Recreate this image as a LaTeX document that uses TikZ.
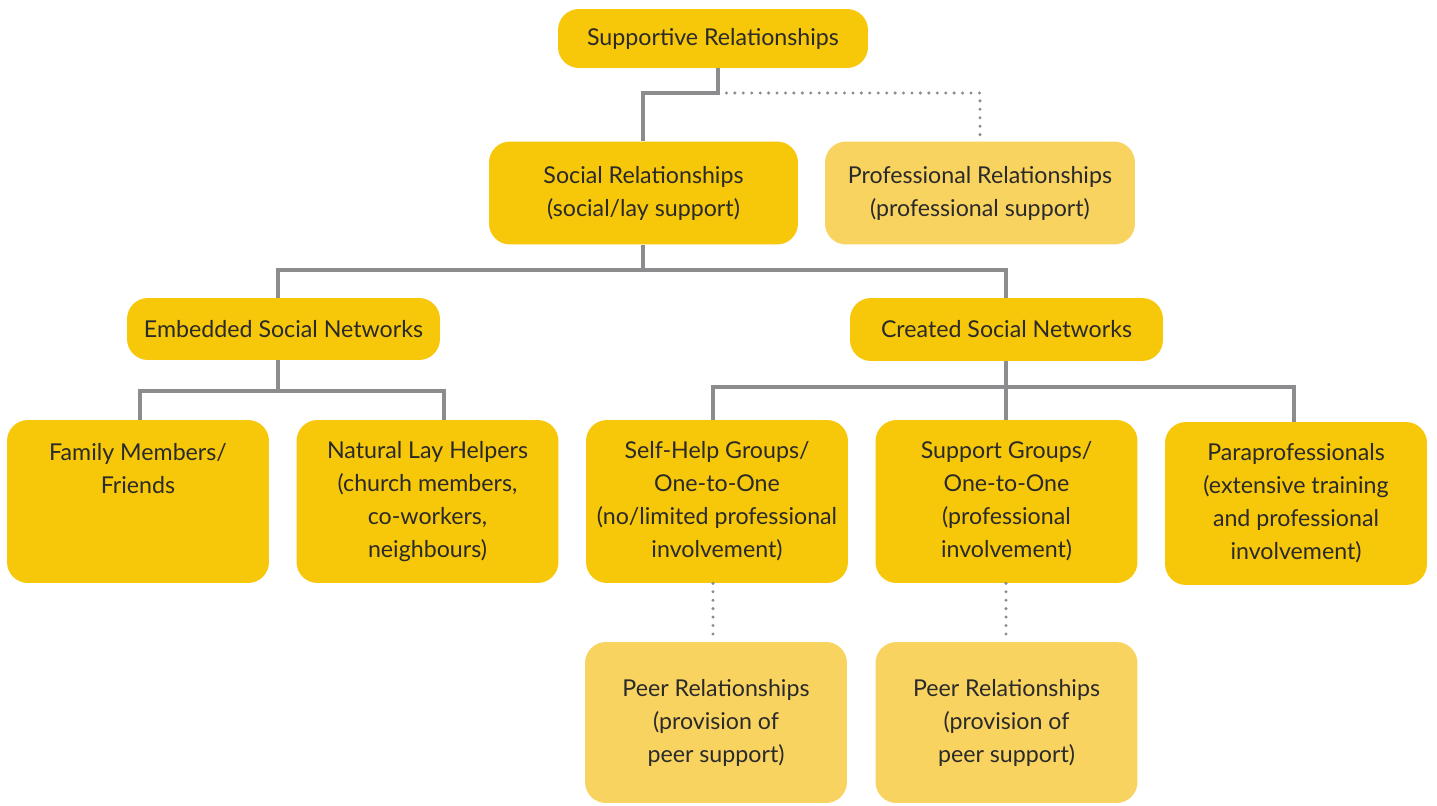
\documentclass[tikz,border=0pt]{standalone}
\usepackage{fontspec}
\setmainfont{Lato}
\usetikzlibrary{positioning}
\definecolor{boxyellow}{HTML}{F7C709}
\definecolor{paleyellow}{HTML}{F9D35F}
\definecolor{linegray}{HTML}{8C8C8E}
\definecolor{textdark}{HTML}{2A2A2A}
\tikzset{
	box/.style={fill=boxyellow, rounded corners=0.42cm, text=textdark,
		align=center, inner sep=0pt,
		font=\fontsize{13.2}{18.8}\selectfont},
	softbox/.style={box, fill=paleyellow},
	leaf/.style={box, minimum width=5.24cm, minimum height=3.26cm},
	link/.style={draw=linegray, line width=2pt},
	dotlink/.style={draw=linegray, line width=1.9pt, line cap=round,
		dash pattern=on 0pt off 4.8pt}}

\begin{document}
\begin{tikzpicture}[x=0.02cm, y=-0.02cm]
		\fill[white] (0,0) rectangle (1437,805);
		\useasboundingbox (0,0) rectangle (1437,805);
		
		% top levels
		\node[box, minimum width=6.2cm, minimum height=1.18cm] (supp) at (713,38.5) {Supportive Relationships};
		\node[box, minimum width=6.18cm, minimum height=2.06cm] (social) at (643.5,193) {Social Relationships\\(social/lay support)};
		\node[softbox, minimum width=6.2cm, minimum height=2.06cm] (prof) at (980,193) {Professional Relationships\\(professional support)};
		\node[box, minimum width=6.26cm, minimum height=1.24cm] (embed) at (283.5,329) {Embedded Social Networks};
		\node[box, minimum width=6.26cm, minimum height=1.26cm] (created) at (1006.5,329.5) {Created Social Networks};
		
		% leaves
		\node[leaf] (family) at (138,501.5) {Family Members/\\Friends\\ \mbox{}\\ \mbox{}};
		\node[leaf] (lay) at (427.5,501.5) {Natural Lay Helpers\\(church members,\\co-workers,\\neighbours)};
		\node[leaf] (selfhelp) at (717,501.5) {Self-Help Groups/\\One-to-One\\(no/limited professional\\involvement)};
		\node[leaf] (support) at (1006.5,501.5) {Support Groups/\\One-to-One\\(professional\\involvement)};
		\node[leaf] (paraprof) at (1296,503.5) {Paraprofessionals\\(extensive training\\and professional\\involvement)};
		\node[leaf, fill=paleyellow, minimum height=3.22cm] (peerA) at (716,722.5) {Peer Relationships\\(provision of\\peer support)};
		\node[leaf, fill=paleyellow, minimum height=3.22cm] (peerB) at (1006.5,722.5) {Peer Relationships\\(provision of\\peer support)};
		
		% branch points
		\coordinate (split1) at (718,93);
		\coordinate (split2) at (643,270);
		\coordinate (split3) at (278,391);
		\coordinate (split4) at (1006,387);
		\coordinate (famx) at (140,0);
		\coordinate (layx) at (444,0);
		\coordinate (selfx) at (713,0);
		\coordinate (parax) at (1294,0);
		
		% connectors
		\draw[link] (supp.south -| split1) -- (split1) -| (social.north -| split2);
		\draw[dotlink] (split1) -| (prof.north);
		\draw[link] (social.south -| split2) -- (split2);
		\draw[link] (embed.north -| split3) |- (split2) -| (created.north -| split4);
		\draw[link] (embed.south -| split3) -- (split3);
		\draw[link] (family.north -| famx) |- (split3) -| (lay.north -| layx);
		\draw[link] (created.south -| split4) -- (split4);
		\draw[link] (selfhelp.north -| selfx) |- (split4) -| (paraprof.north -| parax);
		\draw[link] (split4) -- (support.north -| split4);
		\draw[dotlink] (selfhelp.south -| selfx) -- (peerA.north -| selfx);
		\draw[dotlink] (support.south -| split4) -- (peerB.north -| split4);
	\end{tikzpicture}
\end{document}
